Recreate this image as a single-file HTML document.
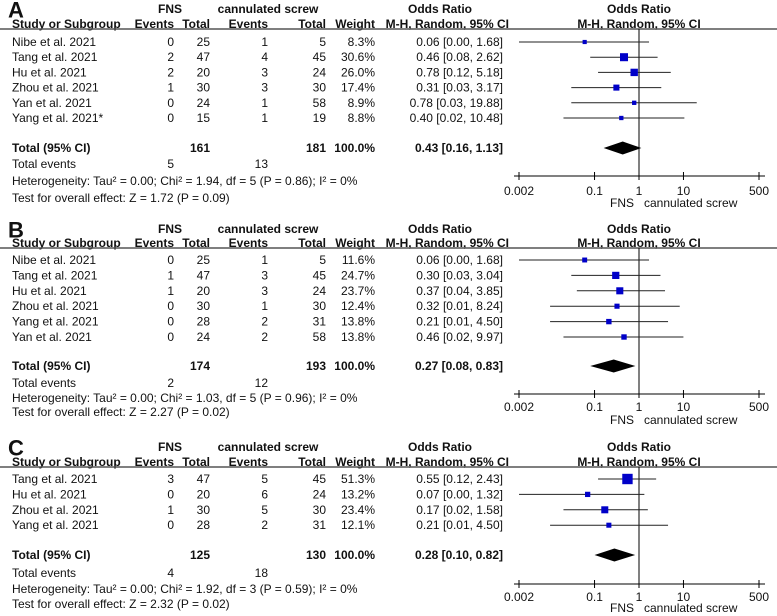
<!DOCTYPE html>
<html><head><meta charset="utf-8"><style>
html,body{margin:0;padding:0;background:#fff;}
svg{display:block;font-family:"Liberation Sans",Arial,sans-serif;}
text{font-size:12px;fill:#111;}
.b{font-weight:bold;}
</style></head><body>
<svg id="fig" width="777" height="616" viewBox="0 0 777 616" xmlns="http://www.w3.org/2000/svg"></svg>
<script>
// Panel A data
const aStudies = ["Nibe et al. 2021","Tang et al. 2021","Hu et al. 2021","Zhou et al. 2021","Yan et al. 2021","Yang et al. 2021*"];
const aFnsEvents = [0,2,2,1,0,0];
const aFnsTotal = [25,47,20,30,24,15];
const aCsEvents = [1,4,3,3,1,1];
const aCsTotal = [5,45,24,30,58,19];
const aWeight = [8.3,30.6,26.0,17.4,8.9,8.8];
const aOR = [0.06,0.46,0.78,0.31,0.78,0.40];
const aLo = [0.00,0.08,0.12,0.03,0.03,0.02];
const aHi = [1.68,2.62,5.18,3.17,19.88,10.48];
const aTotal = [161,181,0.43,0.16,1.13];
const aEvents = [5,13];
const aHet = "Heterogeneity: Tau² = 0.00; Chi² = 1.94, df = 5 (P = 0.86); I² = 0%";
const aTest = "Test for overall effect: Z = 1.72 (P = 0.09)";
// Panel B data
const bStudies = ["Nibe et al. 2021","Tang et al. 2021","Hu et al. 2021","Zhou et al. 2021","Yang et al. 2021","Yan et al. 2021"];
const bFnsEvents = [0,1,1,0,0,0];
const bFnsTotal = [25,47,20,30,28,24];
const bCsEvents = [1,3,3,1,2,2];
const bCsTotal = [5,45,24,30,31,58];
const bWeight = [11.6,24.7,23.7,12.4,13.8,13.8];
const bOR = [0.06,0.30,0.37,0.32,0.21,0.46];
const bLo = [0.00,0.03,0.04,0.01,0.01,0.02];
const bHi = [1.68,3.04,3.85,8.24,4.50,9.97];
const bTotal = [174,193,0.27,0.08,0.83];
const bEvents = [2,12];
const bHet = "Heterogeneity: Tau² = 0.00; Chi² = 1.03, df = 5 (P = 0.96); I² = 0%";
const bTest = "Test for overall effect: Z = 2.27 (P = 0.02)";
// Panel C data
const cStudies = ["Tang et al. 2021","Hu et al. 2021","Zhou et al. 2021","Yang et al. 2021"];
const cFnsEvents = [3,0,1,0];
const cFnsTotal = [47,20,30,28];
const cCsEvents = [5,6,5,2];
const cCsTotal = [45,24,30,31];
const cWeight = [51.3,13.2,23.4,12.1];
const cOR = [0.55,0.07,0.17,0.21];
const cLo = [0.12,0.00,0.02,0.01];
const cHi = [2.43,1.32,1.58,4.50];
const cTotal = [125,130,0.28,0.10,0.82];
const cEvents = [4,18];
const cHet = "Heterogeneity: Tau² = 0.00; Chi² = 1.92, df = 3 (P = 0.59); I² = 0%";
const cTest = "Test for overall effect: Z = 2.32 (P = 0.02)";
const tickValues = [0.002,0.1,1,10,500];
const tickLabels = ["0.002","0.1","1","10","500"];

const NS="http://www.w3.org/2000/svg";
const svg=document.getElementById('fig');
const xMin=0.002,xMax=500,pxMin=519,pxMax=759;
function xs(v){v=Math.max(v,xMin);v=Math.min(v,xMax);return pxMin+(Math.log10(v)-Math.log10(xMin))/(Math.log10(xMax)-Math.log10(xMin))*(pxMax-pxMin);}
function mk(tag,attrs,parent){const e=document.createElementNS(NS,tag);for(const k in attrs)e.setAttribute(k,attrs[k]);(parent||svg).appendChild(e);return e;}
function txt(s,x,y,anchor,bold,name,parent,size){const t=mk('text',{x:x,y:y,'text-anchor':anchor||'start','dominant-baseline':'central'},parent);if(bold)t.setAttribute('class','b');if(size)t.style.fontSize=size+'px';t.textContent=s;


return t;}
function f2(v){return v.toFixed(2);}

const panels=[
 {L:"A",st:aStudies,fe:aFnsEvents,ft:aFnsTotal,ce:aCsEvents,ct:aCsTotal,w:aWeight,or:aOR,lo:aLo,hi:aHi,tot:aTotal,ev:aEvents,het:aHet,test:aTest,
  gy:9,sy:24,line:29,r0:42,sp:15.2,ty:148,ey:164,hy:181,zy:198,ay:176,tly:191,fy:203},
 {L:"B",st:bStudies,fe:bFnsEvents,ft:bFnsTotal,ce:bCsEvents,ct:bCsTotal,w:bWeight,or:bOR,lo:bLo,hi:bHi,tot:bTotal,ev:bEvents,het:bHet,test:bTest,
  gy:229,sy:243,line:248,r0:260,sp:15.4,ty:366,ey:383,hy:398,zy:412,ay:394,tly:407,fy:420},
 {L:"C",st:cStudies,fe:cFnsEvents,ft:cFnsTotal,ce:cCsEvents,ct:cCsTotal,w:cWeight,or:cOR,lo:cLo,hi:cHi,tot:cTotal,ev:cEvents,het:cHet,test:cTest,
  gy:447,sy:462,line:467,r0:479,sp:15.4,ty:555,ey:573,hy:589,zy:604,ay:584,tly:597,fy:608}
];

panels.forEach(p=>{
 const g=mk('g',{});
 
 
 txt(p.L,8,p.gy+1,'start',true,'panel-label',g,22);
 txt("FNS",170,p.gy,'middle',true,'fns-group-header',g);
 txt("cannulated screw",268,p.gy,'middle',true,'control-group-header',g);
 txt("Odds Ratio",440,p.gy,'middle',true,'or-column-header',g);
 txt("Odds Ratio",639,p.gy,'middle',true,'plot-header',g);
 txt("Study or Subgroup",12,p.sy,'start',true,'study-column-header',g);
 txt("Events",174,p.sy,'end',true,'fns-events-header',g);
 txt("Total",210,p.sy,'end',true,'fns-total-header',g);
 txt("Events",268,p.sy,'end',true,'cs-events-header',g);
 txt("Total",326,p.sy,'end',true,'cs-total-header',g);
 txt("Weight",375,p.sy,'end',true,'weight-header',g);
 txt("M-H, Random, 95% CI",509,p.sy,'end',true,'or-method-header',g);
 txt("M-H, Random, 95% CI",639,p.sy,'middle',true,'plot-method-header',g);
 const hl=mk('line',{x1:0,y1:p.line,x2:777,y2:p.line,stroke:'#555','stroke-width':1.5},g);
 
 
 const vl=mk('line',{x1:xs(1),y1:p.line,x2:xs(1),y2:p.ay,stroke:'#000','stroke-width':1},g);
 
 
 p.st.forEach((s,i)=>{
  const y=p.r0+i*p.sp;
  txt(s,12,y,'start',false,'study-name',g);
  txt(String(p.fe[i]),174,y,'end',false,'fns-events',g);
  txt(String(p.ft[i]),210,y,'end',false,'fns-total',g);
  txt(String(p.ce[i]),268,y,'end',false,'cs-events',g);
  txt(String(p.ct[i]),326,y,'end',false,'cs-total',g);
  txt(p.w[i].toFixed(1)+"%",375,y,'end',false,'weight',g);
  txt(f2(p.or[i])+" ["+f2(p.lo[i])+", "+f2(p.hi[i])+"]",503,y,'end',false,'odds-ratio-ci',g);
  const ci=mk('line',{x1:xs(p.lo[i]),y1:y,x2:xs(p.hi[i]),y2:y,stroke:'#222','stroke-width':1},g);
  
  
  const sz=Math.max(3.5,1.45*Math.sqrt(p.w[i]));
  const sq=mk('rect',{x:xs(p.or[i])-sz/2,y:y-sz/2,width:sz,height:sz,fill:'#0000c8'},g);
  
  
 });
 txt("Total (95% CI)",12,p.ty,'start',true,'total-label',g);
 txt(String(p.tot[0]),210,p.ty,'end',true,'fns-total-sum',g);
 txt(String(p.tot[1]),326,p.ty,'end',true,'cs-total-sum',g);
 txt("100.0%",375,p.ty,'end',true,'total-weight',g);
 txt(f2(p.tot[2])+" ["+f2(p.tot[3])+", "+f2(p.tot[4])+"]",503,p.ty,'end',true,'pooled-or',g);
 const dl=xs(p.tot[3]),dc=xs(p.tot[2]),dr=xs(p.tot[4]);
 const dm=mk('polygon',{points:`${dl},${p.ty} ${dc},${p.ty-6.5} ${dr},${p.ty} ${dc},${p.ty+6.5}`,fill:'#000'},g);
 
 
 txt("Total events",12,p.ey,'start',false,'total-events-label',g);
 txt(String(p.ev[0]),174,p.ey,'end',false,'fns-total-events',g);
 txt(String(p.ev[1]),268,p.ey,'end',false,'cs-total-events',g);
 txt(p.het,12,p.hy,'start',false,'heterogeneity-stats',g);
 txt(p.test,12,p.zy,'start',false,'overall-effect-test',g);
 const ax=mk('line',{x1:514,y1:p.ay,x2:765,y2:p.ay,stroke:'#000','stroke-width':1},g);
 
 
 tickValues.forEach((v,i)=>{
  const tk=mk('line',{x1:xs(v),y1:p.ay-4,x2:xs(v),y2:p.ay+4,stroke:'#000','stroke-width':1},g);
  
  
  txt(tickLabels[i],xs(v),p.tly,'middle',false,'x-tick-label',g);
 });
 txt("FNS",xs(1)-5,p.fy,'end',false,'favours-fns-label',g);
 txt("cannulated screw",xs(1)+5,p.fy,'start',false,'favours-cs-label',g);
});
</script>
</body></html>
